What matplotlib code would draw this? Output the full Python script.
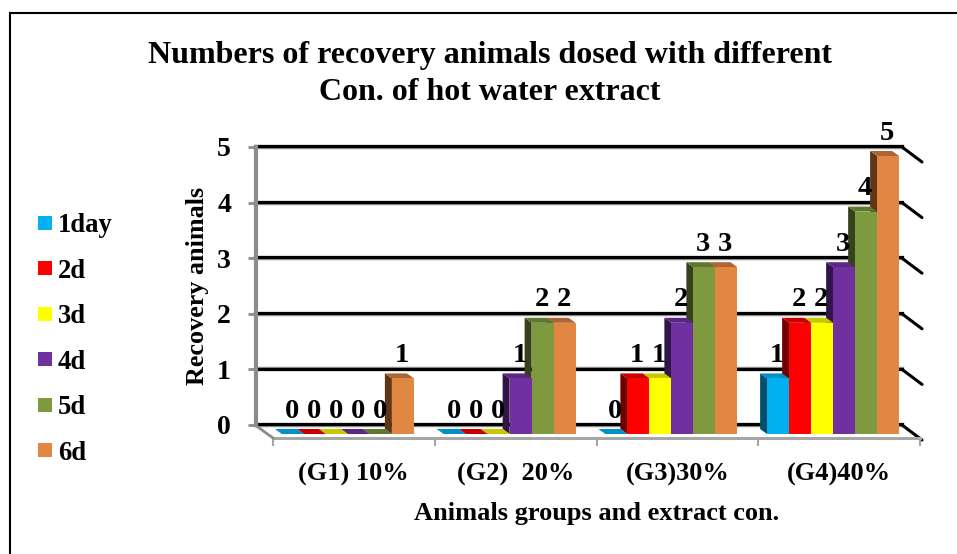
import matplotlib
matplotlib.use("Agg")
import matplotlib.pyplot as plt
from matplotlib.patches import Polygon, Rectangle

plt.rcParams['font.family'] = ['Liberation Serif', 'DejaVu Serif']
plt.rcParams['font.weight'] = 'bold'

W, H = 957, 554

groups = ["(G1) 10%", "(G2)  20%", "(G3)30%", "(G4)40%"]
series = ["1day", "2d", "3d", "4d", "5d", "6d"]
day1 = [0, 0, 0, 1]
day2 = [0, 0, 1, 2]
day3 = [0, 0, 1, 2]
day4 = [0, 1, 2, 3]
day5 = [0, 2, 3, 4]
day6 = [1, 2, 3, 5]
values = [day1, day2, day3, day4, day5, day6]

front_cols = ["#00B0F0", "#FF0000", "#FFFF00", "#7030A0", "#7F9A3E", "#E08843"]
side_cols = ["#004F6D", "#700000", "#707000", "#31154A", "#36421B", "#5F3515"]
top_cols = ["#0091C7", "#C80000", "#C8C800", "#5A2783", "#5F7830", "#AC6535"]


def px_axes(fig, left, top, right, bottom):
    """axes placed by pixel edges, y counted from the top of the image"""
    return fig.add_axes([left / W, 1 - bottom / H, (right - left) / W, (bottom - top) / H])


def main():
    fig = plt.figure(figsize=(W / 100, H / 100), dpi=100)

    # outer frame, only top and left are inside the picture
    fig.add_artist(plt.Line2D([10 / W, 1], [1 - 13 / H, 1 - 13 / H], color="black", lw=1.5))
    fig.add_artist(plt.Line2D([10 / W, 10 / W], [0, 1 - 13 / H], color="black", lw=1.5))

    # back wall with the gridlines
    wall = px_axes(fig, 256, 147, 902, 425)
    wall.set_xlim(0, 1)
    wall.set_ylim(0, 5)
    wall.set_xticks([])
    wall.set_yticks(range(6))
    wall.tick_params(axis="y", length=6, width=2, color="#8C8C8C", pad=12, labelsize=20)
    for s in ["top", "right", "bottom"]:
        wall.spines[s].set_visible(False)
    wall.spines["left"].set_color("#8C8C8C")
    wall.spines["left"].set_linewidth(3)
    for v in range(6):
        wall.plot([0, 1], [v, v], color="#8C8C8C", lw=3.2, clip_on=False, zorder=1)
        wall.plot([0, 1], [v + 0.015, v + 0.015], color="black", lw=2.2, clip_on=False, zorder=2)
        # slanted stub on the right side wall
        wall.annotate("", xy=(1, v), xycoords="data", xytext=(20, -15), textcoords="offset pixels",
                      arrowprops=dict(arrowstyle="-", color="black", lw=2.2, shrinkA=0, shrinkB=0))
    wall.set_ylabel("Recovery animals", fontsize=18.8, fontweight="bold", labelpad=6)

    # floor edges
    fig.add_artist(plt.Line2D([255 / W, 273 / W], [1 - 425 / H, 1 - 438 / H], color="#8C8C8C", lw=2))

    # front plane, the bars stand on it
    ax = px_axes(fig, 273, 156, 920, 434)
    ax.patch.set_visible(False)
    ax.set_xlim(0, 4)
    ax.set_ylim(0, 5)
    ax.set_yticks([])
    for s in ["top", "right", "left"]:
        ax.spines[s].set_visible(False)
    ax.spines["bottom"].set_position(("outward", 3))
    ax.spines["bottom"].set_color("#A6A6A6")
    ax.spines["bottom"].set_linewidth(2.2)
    ax.set_xticks(range(5))
    ax.set_xticklabels([])
    ax.tick_params(axis="x", which="major", length=5.5, width=1.5, color="#A6A6A6")
    ax.set_xticks([i + 0.5 for i in range(4)], minor=True)
    ax.set_xticklabels(groups, minor=True, fontsize=19, fontweight="bold")
    ax.tick_params(axis="x", which="minor", length=0, pad=18)
    ax.set_xlabel("Animals groups and extract con.", fontsize=19, fontweight="bold", labelpad=11)

    w = 22 / 161.75
    shift = 6 / 161.75
    dx = 7 / 161.75
    dy = 5 / 55.6

    # right to left, so a bar's front hides the side of its right neighbour
    z = 3
    for k in range(5, -1, -1):
        for g in range(4):
            v = values[k][g]
            x0 = g + 0.5 + (k - 3) * w - shift
            ax.bar(x0, v, width=w, align="edge", color=front_cols[k], zorder=z + 0.2, clip_on=False)
            ax.add_patch(Polygon([(x0, 0), (x0 - dx, dy), (x0 - dx, v + dy), (x0, v)],
                                 facecolor=side_cols[k], edgecolor="none", zorder=z, clip_on=False))
            ax.add_patch(Polygon([(x0, v), (x0 - dx, v + dy), (x0 + w - dx, v + dy), (x0 + w, v)],
                                 facecolor=top_cols[k], edgecolor="none", zorder=z + 0.1, clip_on=False))
            ax.annotate(str(v), xy=(x0 + w / 2, v), xytext=(-1, 23), textcoords="offset pixels",
                        ha="center", va="center", fontsize=20.5, fontweight="bold", zorder=20,
                        annotation_clip=False)
        z += 1

    # legend by hand, keys are square and wide apart
    for k, name in enumerate(series):
        y = 223 + k * 45.4
        fig.add_artist(Rectangle((38 / W, 1 - (y + 7) / H), 14 / W, 14 / H, transform=fig.transFigure,
                                 facecolor=front_cols[k], edgecolor="none"))
        fig.text(58 / W, 1 - (y + 3) / H, name, fontsize=19.2, fontweight="bold", va="center", ha="left")

    fig.text(490 / W, 1 - 56 / H, "Numbers of recovery animals dosed with different",
             fontsize=23, fontweight="bold", ha="center", va="center")
    fig.text(490 / W, 1 - 92 / H, "Con. of hot water extract",
             fontsize=23, fontweight="bold", ha="center", va="center")

    fig.savefig("out.png", dpi=100)


if __name__ == "__main__":
    main()
